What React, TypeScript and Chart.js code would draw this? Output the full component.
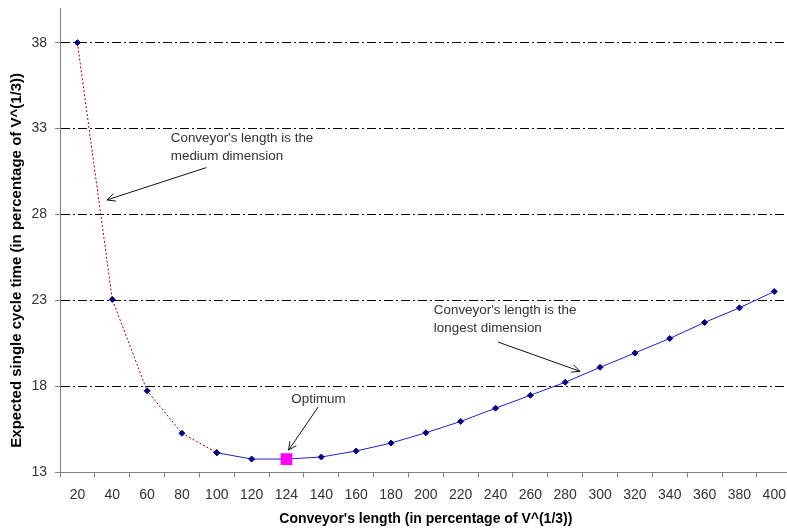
import React, { useEffect, useRef } from "react";
import { Chart, registerables } from "chart.js";

Chart.register(...registerables);

// ---- data ----
const categories = [
  "20", "40", "60", "80", "100", "120", "124", "140", "160", "180", "200",
  "220", "240", "260", "280", "300", "320", "340", "360", "380", "400",
];
const mediumDimension = [
  38.0, 23.06, 17.74, 15.27, 14.14, null, null, null, null, null, null,
  null, null, null, null, null, null, null, null, null, null,
];
const longestDimension = [
  null, null, null, null, 14.14, 13.77, 13.77, 13.89, 14.24, 14.7, 15.3,
  15.96, 16.73, 17.48, 18.24, 19.11, 19.94, 20.79, 21.72, 22.57, 23.52,
];
const optimum = [
  null, null, null, null, null, null, 13.77, null, null, null, null,
  null, null, null, null, null, null, null, null, null, null,
];
const yTickValues = [13, 18, 23, 28, 33, 38];
const yMin = 13;
const yMax = 40;

const xTitle = "Conveyor's length (in percentage of V^(1/3))";
const yTitle = "Expected single cycle time (in percentage of V^(1/3))";

// annotations in data units (category index, value)
const notes = [
  {
    lines: ["Conveyor's length is the", "medium dimension"],
    textAt: [2.68, 32.43],
    tail: [3.7, 30.73],
    head: [0.847, 28.85],
  },
  {
    lines: ["Optimum"],
    textAt: [6.14, 17.23],
    tail: [6.91, 16.8],
    head: [6.06, 14.29],
  },
  {
    lines: ["Conveyor's length is the", "longest dimension"],
    textAt: [10.23, 22.41],
    tail: [12.07, 20.58],
    head: [14.42, 18.88],
  },
];

const FONT = "'Liberation Sans', Arial, sans-serif";

const notesPlugin = {
  id: "notes",
  afterDatasetsDraw(chart: any) {
    const { ctx, scales } = chart;
    const xs = scales.x;
    const ys = scales.y;
    ctx.save();
    for (const n of notes) {
      const tx = xs.getPixelForValue(n.textAt[0]);
      const ty = ys.getPixelForValue(n.textAt[1]);
      ctx.font = `13.4px ${FONT}`;
      ctx.fillStyle = "#333333";
      ctx.textAlign = "left";
      ctx.textBaseline = "middle";
      n.lines.forEach((l, i) => ctx.fillText(l, tx, ty + i * 17.7));
      const x1 = xs.getPixelForValue(n.tail[0]);
      const y1 = ys.getPixelForValue(n.tail[1]);
      const x2 = xs.getPixelForValue(n.head[0]);
      const y2 = ys.getPixelForValue(n.head[1]);
      ctx.strokeStyle = "#111111";
      ctx.lineWidth = 1;
      ctx.beginPath();
      ctx.moveTo(x1, y1);
      ctx.lineTo(x2, y2);
      const ang = Math.atan2(y2 - y1, x2 - x1);
      const L = 9;
      const spread = 0.45;
      ctx.moveTo(x2 - L * Math.cos(ang - spread), y2 - L * Math.sin(ang - spread));
      ctx.lineTo(x2, y2);
      ctx.lineTo(x2 - L * Math.cos(ang + spread), y2 - L * Math.sin(ang + spread));
      ctx.stroke();
    }
    // y axis title
    const area = chart.chartArea;
    ctx.save();
    ctx.translate(17, (area.top + area.bottom) / 2 + 20);
    ctx.rotate(-Math.PI / 2);
    ctx.font = `bold 15px ${FONT}`;
    ctx.fillStyle = "#000000";
    ctx.textAlign = "center";
    ctx.textBaseline = "middle";
    ctx.fillText(yTitle, 0, 0);
    ctx.restore();
    ctx.restore();
  },
};

export default function App() {
  const ref = useRef<HTMLCanvasElement | null>(null);

  useEffect(() => {
    if (!ref.current) return;
    const navy = "#000080";
    const chart = new Chart(ref.current, {
      type: "line",
      data: {
        labels: categories,
        datasets: [
          {
            label: "optimum",
            data: optimum,
            order: 0,
            showLine: false,
            pointStyle: "rect",
            pointRadius: 8.3,
            pointBorderWidth: 0,
            pointBackgroundColor: "#ff00ff",
            pointBorderColor: "#ff00ff",
            borderColor: "#ff00ff",
          },
          {
            label: "longest",
            data: longestDimension,
            order: 1,
            borderColor: "#2020cc",
            borderWidth: 1,
            tension: 0,
            pointStyle: "rectRot",
            pointRadius: 3,
            pointBorderWidth: 1,
            pointBackgroundColor: navy,
            pointBorderColor: navy,
          },
          {
            label: "medium",
            data: mediumDimension,
            order: 2,
            borderColor: "#990000",
            borderWidth: 1,
            borderDash: [2, 2],
            tension: 0,
            pointStyle: "rectRot",
            pointRadius: 3,
            pointBorderWidth: 1,
            pointBackgroundColor: navy,
            pointBorderColor: navy,
          },
        ],
      },
      options: {
        animation: false,
        responsive: false,
        devicePixelRatio: 1,
        layout: { padding: { left: 0, right: 4.5, top: 6, bottom: 0 } },
        plugins: {
          legend: { display: false },
          tooltip: { enabled: false },
        },
        scales: {
          x: {
            type: "category",
            offset: true,
            grid: {
              display: true,
              offset: true,
              drawOnChartArea: false,
              drawTicks: true,
              tickLength: 5,
              tickColor: "#808080",
              color: "#808080",
            },
            border: { display: true, color: "#808080", width: 1 },
            ticks: {
              autoSkip: false,
              maxRotation: 0,
              padding: 9,
              color: "#333333",
              font: { family: FONT, size: 14 },
            },
            title: {
              display: true,
              text: xTitle,
              color: "#000000",
              font: { family: FONT, size: 14, weight: "bold" },
              padding: { top: 4, bottom: 3 },
            },
            afterFit: (s: any) => {
              s.height = 58.7;
              s.paddingLeft = 0;
              s.paddingRight = 0;
            },
          },
          y: {
            type: "linear",
            min: yMin,
            max: yMax,
            afterBuildTicks: (s: any) => {
              s.ticks = yTickValues.map((v) => ({ value: v }));
            },
            afterFit: (s: any) => {
              s.width = 60;
              s.paddingTop = 0;
              s.paddingBottom = 0;
            },
            grid: {
              display: true,
              drawOnChartArea: true,
              drawTicks: true,
              tickLength: 5,
              tickColor: "#808080",
              color: (c: any) =>
                c.tick && c.tick.value === yMin ? "rgba(0,0,0,0)" : "#000000",
              lineWidth: 1,
            },
            border: { display: true, color: "#808080", width: 1, dash: [9, 3, 2, 3] },
            ticks: {
              padding: 8,
              color: "#333333",
              font: { family: FONT, size: 14 },
            },
            title: { display: false },
          },
        },
      },
      plugins: [notesPlugin],
    } as any);
    return () => chart.destroy();
  }, []);

  return (
    <div
      style={{
        position: "fixed",
        left: 0,
        top: 0,
        width: 787,
        height: 531,
        overflow: "hidden",
        background: "#ffffff",
      }}
    >
      <canvas ref={ref} width={800} height={531} style={{ width: 800, height: 531, display: "block" }} />
    </div>
  );
}
